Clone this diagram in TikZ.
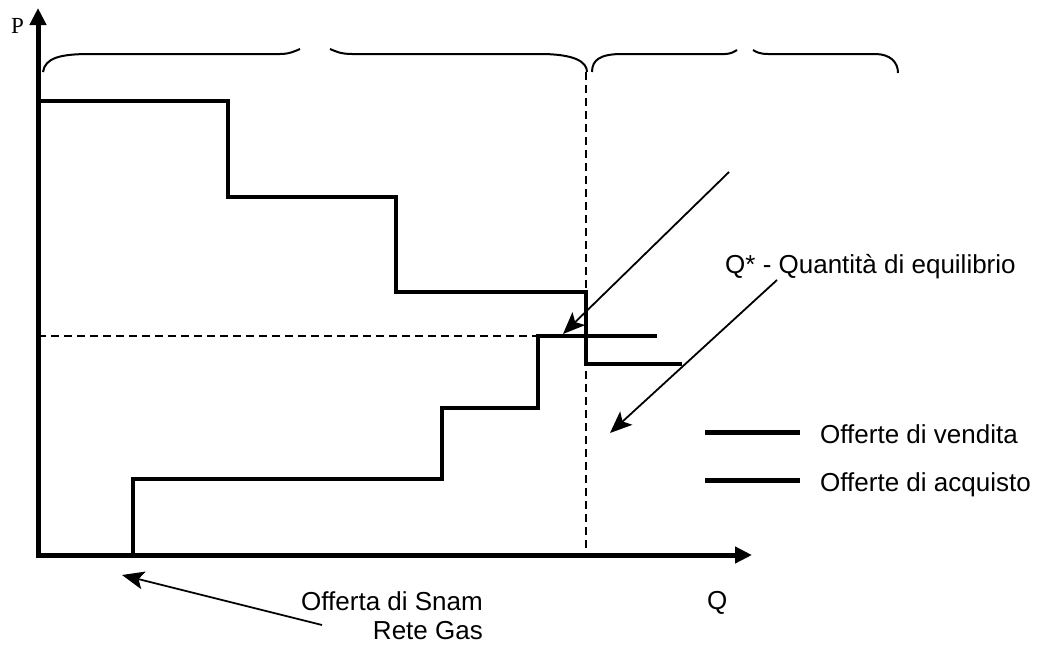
\documentclass[tikz,border=0pt]{standalone}
\usepackage{fontspec}
\setmainfont{Liberation Sans}
\newfontfamily\pfont{Liberation Serif}
\usetikzlibrary{arrows.meta}
\begin{document}
\begin{tikzpicture}[x=1pt,y=-1pt,
  axis/.style={line width=5pt, line join=miter, {Triangle[length=17pt,width=16pt]}-{Triangle[length=17pt,width=16pt]}},
  sellcurve/.style={line width=3.5pt, line join=miter},
  buycurve/.style={line width=4.2pt, line join=miter},
  legendline/.style={line width=5pt},
  guide/.style={line width=1.5pt, dash pattern=on 8pt off 5pt},
  bracepart/.style={line width=2pt},
  pointer/.style={line width=1.8pt, -{Stealth[length=22pt,width=18pt,inset=5pt]}},
  lbl/.style={font=\fontsize{26}{29}\selectfont, inner sep=0pt},
]
\useasboundingbox (0,0) rectangle (1046,648);

% key coordinates
\coordinate (O) at (38,555);
\coordinate (ytip) at (38,8);
\coordinate (xtip) at (752,555);

% guides
\draw[guide] (38,336) -- (538,336);
\draw[guide] (586,72) -- (586,555);

% braces
\draw[bracepart] (43,72) .. controls (45,58) and (60,54) .. (90,54) -- (280,54) .. controls (290,54) and (295,51) .. (300,49);
\draw[bracepart] (330,49) .. controls (335,51) and (340,54) .. (352,54) -- (540,54) .. controls (575,54) and (587,62) .. (587,72);
\draw[bracepart] (592,72) .. controls (592,60) and (600,54) .. (622,54) -- (725,54) .. controls (730,54) and (734,52) .. (737,50);
\draw[bracepart] (753,50) .. controls (756,52) and (760,54) .. (768,54) -- (875,54) .. controls (890,54) and (898,62) .. (898,73);

% sell offers
\draw[sellcurve] (38,101) -- (228,101) -- (228,197) -- (396,197) -- (396,292) -- (586,292) -- (586,364) -- (682,364);
% buy offers
\draw[buycurve] (O) -- (133,555) -- (133,479) -- (442,479) -- (442,408) -- (538,408) -- (538,336) -- (657,336);

% axes
\draw[axis] (ytip) -- (O) -- (xtip);
\node[inner sep=0pt, anchor=base west] (P) at (11,33) {\pfont\fontsize{23}{26}\selectfont P};
\node[lbl, anchor=base west] (Q) at (707,609) {Q};

% labels
\node[lbl, anchor=base west] (qstar) at (725,273) {Q* - Quantità di equilibrio};
\node[lbl, anchor=base east] (snam1) at (483,610) {Offerta di Snam};
\node[lbl, anchor=base east] (snam2) at (483,639) {Rete Gas};

% legend
\coordinate (l1a) at (705,432); \coordinate (l1b) at (800,432);
\coordinate (l2a) at (705,480); \coordinate (l2b) at (800,480);
\draw[legendline] (l1a) -- (l1b);
\draw[legendline] (l2a) -- (l2b);
\node[lbl, anchor=base west] (leg1) at (820,443) {Offerte di vendita};
\node[lbl, anchor=base west] (leg2) at (820,491) {Offerte di acquisto};

% pointers
\coordinate (a1s) at (729,172); \coordinate (a1e) at (563,334);
\coordinate (a2s) at (777,280); \coordinate (a2e) at (610,433);
\coordinate (a3s) at (322,625); \coordinate (a3e) at (122,575);
\draw[pointer] (a1s) -- (a1e);
\draw[pointer] (a2s) -- (a2e);
\draw[pointer] (a3s) -- (a3e);
\end{tikzpicture}
\end{document}
